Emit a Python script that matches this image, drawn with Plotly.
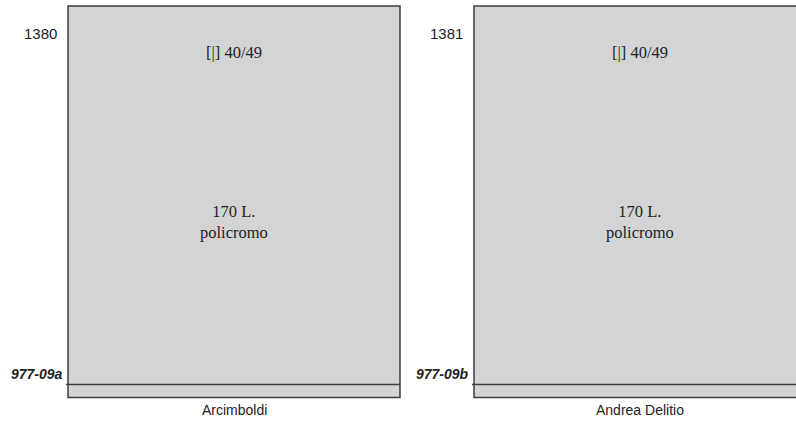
import plotly.graph_objects as go

# data
catalog_numbers = ["1380", "1381"]
codes = ["977-09a", "977-09b"]
artists = ["Arcimboldi", "Andrea Delitio"]
sheet_info = ["[|] 40/49", "[|] 40/49"]
values = ["170 L.<br>policromo", "170 L.<br>policromo"]

W, H = 796, 423
box_left = [68, 474]
box_w = 332
box_top, box_bottom, line_y = 6, 397.5, 384.5

fig = go.Figure()
shapes = []
anns = []
fill = "#d3d4d6"
edge = "#3d3d3d"
sans = "Liberation Sans, Arial"
serif = "Liberation Serif, Times New Roman"
for i in range(len(catalog_numbers)):
    x0 = box_left[i]
    x1 = x0 + box_w
    cx = x0 + box_w / 2
    shapes.append(dict(type="rect", xref="x", yref="y", x0=x0, x1=x1, y0=box_top, y1=box_bottom,
                       fillcolor=fill, line=dict(color=edge, width=1.5), layer="below"))
    shapes.append(dict(type="line", xref="x", yref="y", x0=x0 - 2, x1=x1, y0=line_y, y1=line_y,
                       line=dict(color=edge, width=1.5)))
    anns.append(dict(x=x0 - 9, y=33, text=catalog_numbers[i], xanchor="right", yanchor="middle",
                     showarrow=False, font=dict(family=sans, size=15, color="#222")))
    anns.append(dict(x=x0 - 3, y=374, text="<b><i>" + codes[i] + "</i></b>", xanchor="right", yanchor="middle",
                     showarrow=False, font=dict(family=sans, size=14, color="#222")))
    anns.append(dict(x=cx, y=52, text=sheet_info[i], xanchor="center", yanchor="middle",
                     showarrow=False, font=dict(family=serif, size=16.5, color="#222")))
    anns.append(dict(x=cx, y=222, text=values[i], xanchor="center", yanchor="middle",
                     showarrow=False, font=dict(family=serif, size=16.5, color="#222")))
    anns.append(dict(x=cx, y=410, text=artists[i], xanchor="center", yanchor="middle",
                     showarrow=False, font=dict(family=sans, size=14, color="#222")))

fig.update_layout(
    width=W, height=H, margin=dict(l=0, r=0, t=0, b=0),
    paper_bgcolor="white", plot_bgcolor="white",
    xaxis=dict(range=[0, W], visible=False, fixedrange=True),
    yaxis=dict(range=[H, 0], visible=False, fixedrange=True),
    shapes=shapes, annotations=anns, showlegend=False,
)
fig.write_html("out.html", config={"displayModeBar": False},
               post_script="document.body.style.margin='0';document.body.style.overflow='hidden';")
